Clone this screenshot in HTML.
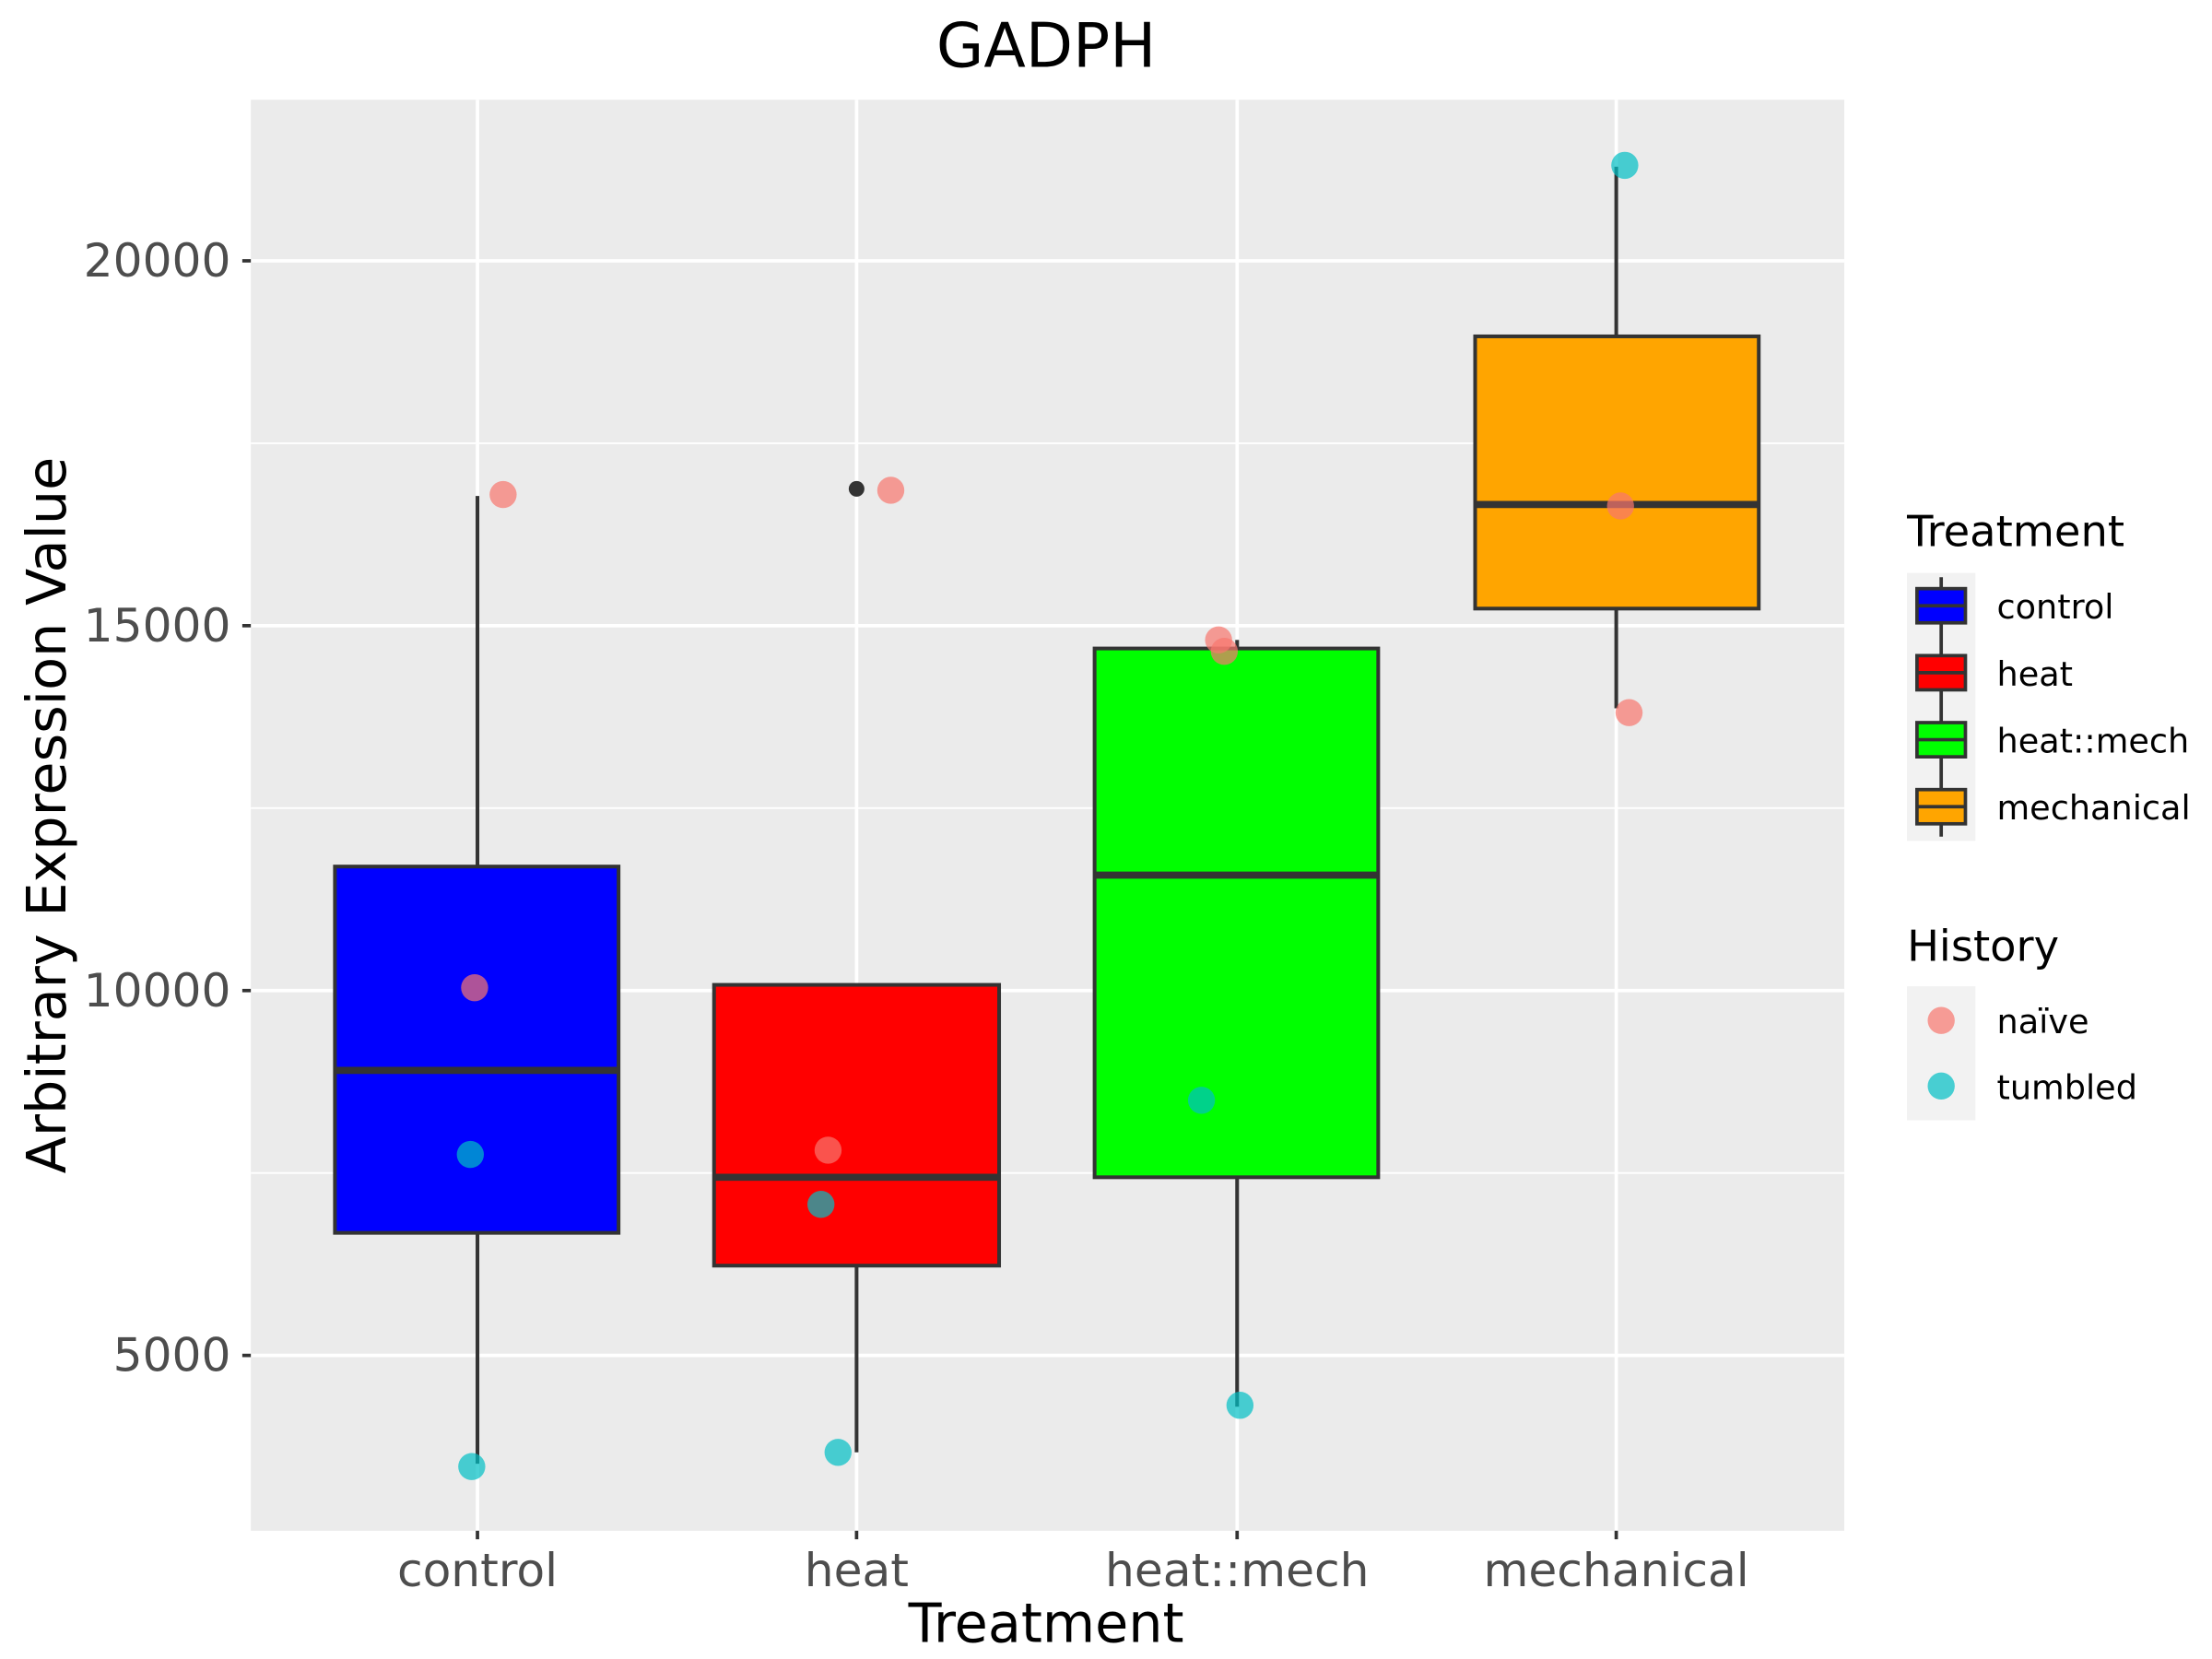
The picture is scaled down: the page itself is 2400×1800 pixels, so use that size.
<!DOCTYPE html>
<html><head><meta charset="utf-8"><style>html,body{margin:0;padding:0;background:#fff}svg{display:block}</style></head>
<body>
<svg width="2400" height="1800" viewBox="0 0 1552 1164" xmlns="http://www.w3.org/2000/svg" font-family="'DejaVu Sans','Liberation Sans',sans-serif">
<rect width="1552" height="1164" fill="#fff"/>
<rect x="176" y="70" width="1118" height="1004" fill="#ebebeb"/>
<g stroke="#fff" stroke-width="1.2">
<line x1="176" x2="1294" y1="311" y2="311"/><line x1="176" x2="1294" y1="567" y2="567"/><line x1="176" x2="1294" y1="823" y2="823"/>
</g>
<g stroke="#fff" stroke-width="2.4">
<line x1="176" x2="1294" y1="183" y2="183"/><line x1="176" x2="1294" y1="439" y2="439"/><line x1="176" x2="1294" y1="695" y2="695"/><line x1="176" x2="1294" y1="951" y2="951"/>
<line x1="335" x2="335" y1="70" y2="1074"/><line x1="601" x2="601" y1="70" y2="1074"/><line x1="868" x2="868" y1="70" y2="1074"/><line x1="1134" x2="1134" y1="70" y2="1074"/>
</g>
<g stroke="#333" stroke-width="2.6">
<line x1="335" x2="335" y1="348" y2="608"/><line x1="335" x2="335" y1="865" y2="1027"/>
<line x1="601" x2="601" y1="888" y2="1019"/>
<line x1="868" x2="868" y1="449" y2="455"/><line x1="868" x2="868" y1="826" y2="987"/>
<line x1="1134" x2="1134" y1="117" y2="236"/><line x1="1134" x2="1134" y1="427" y2="497"/>
<rect x="235" y="608" width="199" height="257" fill="#0000ff"/>
<rect x="501" y="691" width="200" height="197" fill="#ff0000"/>
<rect x="768" y="455" width="199" height="371" fill="#00ff00"/>
<rect x="1035" y="236" width="199" height="191" fill="#ffa500"/>
</g>
<g stroke="#333" stroke-width="5">
<line x1="235" x2="434" y1="751" y2="751"/><line x1="501" x2="701" y1="826" y2="826"/><line x1="768" x2="967" y1="614" y2="614"/><line x1="1035" x2="1234" y1="354" y2="354"/>
</g>
<circle cx="601" cy="343" r="5.5" fill="#333"/>
<g fill="#F8766D" fill-opacity="0.7">
<circle cx="353" cy="347" r="9.5"/><circle cx="333" cy="693" r="9.5"/><circle cx="625" cy="344" r="9.5"/><circle cx="581" cy="807" r="9.5"/><circle cx="855" cy="449" r="9.5"/><circle cx="859" cy="457" r="9.5"/><circle cx="1137" cy="355" r="9.5"/><circle cx="1143" cy="500" r="9.5"/>
</g>
<g fill="#00BFC4" fill-opacity="0.7">
<circle cx="331" cy="1029" r="9.5"/><circle cx="330" cy="810" r="9.5"/><circle cx="588" cy="1019" r="9.5"/><circle cx="576" cy="845" r="9.5"/><circle cx="843" cy="772" r="9.5"/><circle cx="870" cy="986" r="9.5"/><circle cx="1140" cy="116" r="9.5"/>
</g>
<g stroke="#333" stroke-width="2.4">
<line x1="170" x2="176" y1="183" y2="183"/><line x1="170" x2="176" y1="439" y2="439"/><line x1="170" x2="176" y1="695" y2="695"/><line x1="170" x2="176" y1="951" y2="951"/>
<line x1="335" x2="335" y1="1074" y2="1080"/><line x1="601" x2="601" y1="1074" y2="1080"/><line x1="868" x2="868" y1="1074" y2="1080"/><line x1="1134" x2="1134" y1="1074" y2="1080"/>
</g>
<g fill="#4d4d4d" font-size="32.5" text-anchor="end">
<text x="162" y="194">20000</text><text x="162" y="450">15000</text><text x="162" y="706">10000</text><text x="162" y="962">5000</text>
</g>
<g fill="#4d4d4d" font-size="32.5" text-anchor="middle">
<text x="335" y="1113">control</text><text x="601" y="1113">heat</text><text x="868" y="1113">heat::mech</text><text x="1134" y="1113">mechanical</text>
</g>
<text x="734" y="1152" font-size="38" text-anchor="middle">Treatment</text>
<text x="734" y="47" font-size="43" text-anchor="middle">GADPH</text>
<text transform="translate(46,572) rotate(-90)" font-size="38" text-anchor="middle">Arbitrary Expression Value</text>
<text x="1338" y="383" font-size="30">Treatment</text>
<rect x="1338" y="402" width="48" height="188" fill="#f2f2f2"/>
<g stroke="#333" stroke-width="2.4">
<line x1="1362" x2="1362" y1="405" y2="587"/>
<rect x="1345" y="413" width="34" height="24" fill="#0000ff"/>
<rect x="1345" y="460" width="34" height="24" fill="#ff0000"/>
<rect x="1345" y="507" width="34" height="24" fill="#00ff00"/>
<rect x="1345" y="554" width="34" height="24" fill="#ffa500"/>
<line x1="1345" x2="1379" y1="425" y2="425"/><line x1="1345" x2="1379" y1="472" y2="472"/><line x1="1345" x2="1379" y1="519" y2="519"/><line x1="1345" x2="1379" y1="566" y2="566"/>
</g>
<g font-size="23.7" fill="#000">
<text x="1401" y="434">control</text><text x="1401" y="481">heat</text><text x="1401" y="528">heat::mech</text><text x="1401" y="575">mechanical</text>
</g>
<text x="1338" y="674" font-size="30">History</text>
<rect x="1338" y="692" width="48" height="94" fill="#f2f2f2"/>
<circle cx="1362" cy="716" r="9.5" fill="#F8766D" fill-opacity="0.7"/>
<circle cx="1362" cy="762" r="9.5" fill="#00BFC4" fill-opacity="0.7"/>
<g font-size="23.7"><text x="1401" y="725">naïve</text><text x="1401" y="771">tumbled</text></g>
</svg>
</body></html>
